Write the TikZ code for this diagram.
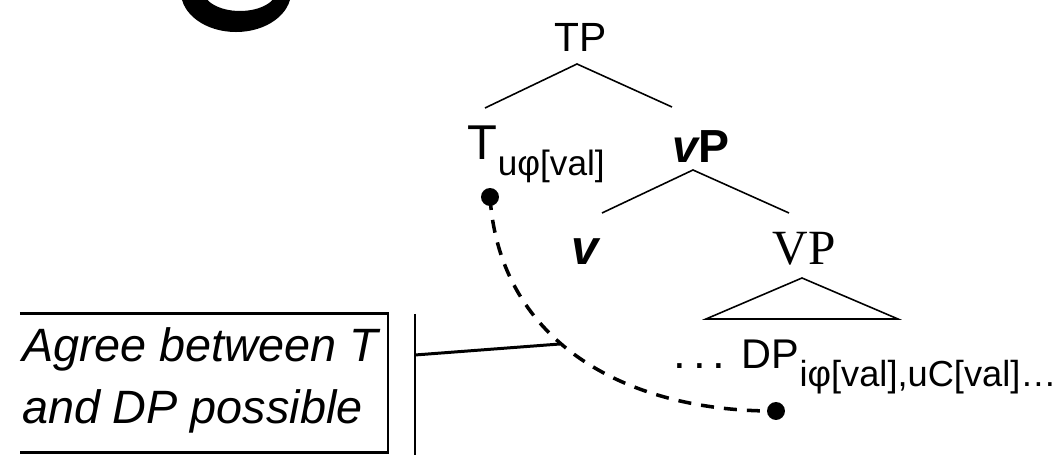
\documentclass[tikz,border=0pt]{standalone}
\usepackage{fontspec}
\setmainfont{Liberation Sans}
\newfontfamily\serifface{Liberation Serif}
\newcommand{\fs}[1]{\fontsize{#1}{1.2\dimexpr #1pt\relax}\selectfont}
\tikzset{
  lbl/.style={inner sep=0pt, outer sep=0pt, anchor=base west},
  branch/.style={line width=0.45pt},
  frame/.style={line width=0.85pt},
  agree/.style={line width=1pt, dash pattern=on 3.7pt off 2.85pt},
  spot/.style={circle, fill, inner sep=0pt, minimum size=5.1pt},
}
\begin{document}
\begin{tikzpicture}[x=0.01cm, y=-0.01cm]
\useasboundingbox (0,0) rectangle (1062,455);

% lower part of a large bold letter, cut by the top edge
\begin{scope}
  \clip (0,0) rectangle (1062,455);
  \fill[even odd rule] (236,-8) ellipse [x radius=0.55cm, y radius=0.40cm]
                       (240,-10) ellipse [x radius=0.37cm, y radius=0.21cm];
\end{scope}

% tree labels
\node[lbl, anchor=base] (TP) at (581,52) {\fs{11.6}TP};
\node[lbl] (T) at (468,160) {\fs{13.9}T\raisebox{-4.3pt}{\fs{10}uφ[val]}};
\node[lbl] (vP) at (673,163) {\fs{13.2}\bfseries\itshape v\upshape P};
\node[lbl] (v) at (572,265) {\fs{13.9}\bfseries\itshape v};
\node[lbl] (VP) at (773,265) {\serifface\fs{14}VP};
\node[lbl] (dots) at (674,369) {\fs{13}.\kern1.8pt.\kern1.8pt.};
\node[lbl] (DP) at (742,369) {\fs{11.8}DP\raisebox{-5.1pt}{\fs{10.3}iφ[val],uC[val]…}};

% branches
\coordinate (tpA) at (577,64);
\coordinate (tpL) at (485,108);
\coordinate (tpR) at (672,107);
\draw[branch] (tpL) -- (tpA) -- (tpR);
\coordinate (vpA) at (693,170);
\coordinate (vpL) at (602,213);
\coordinate (vpR) at (789,213);
\draw[branch] (vpL) -- (vpA) -- (vpR);
\coordinate (vA) at (802,278);
\coordinate (vL) at (706,319);
\coordinate (vR) at (898,319);
\draw[branch] (vL) -- (vA) -- (vR) -- cycle;

% agreement relation
\node[spot] (probe) at (490,197) {};
\node[spot] (goal) at (776,411) {};
\draw[agree] (probe.center) .. controls (500,345) and (630,412) .. (goal.center);

% comment box and bracket
\coordinate (bTL) at (20,314);
\coordinate (bTR) at (388,314);
\coordinate (bBR) at (388,453);
\coordinate (bBL) at (20,453);
\draw[frame] (bTL) -- (bTR) -- (bBR) -- (bBL);
\node[lbl] (note1) at (22,362) {\fs{13.3}\itshape Agree between T};
\node[lbl] (note2) at (22,424) {\fs{13.3}\itshape and DP possible};
\coordinate (brT) at (415,314);
\coordinate (brB) at (415,455);
\coordinate (brM) at (415,355);
\coordinate (hit) at (560,344);
\draw[frame] (brT) -- (brB);
\draw[frame] (brM) -- (hit);
\end{tikzpicture}
\end{document}
